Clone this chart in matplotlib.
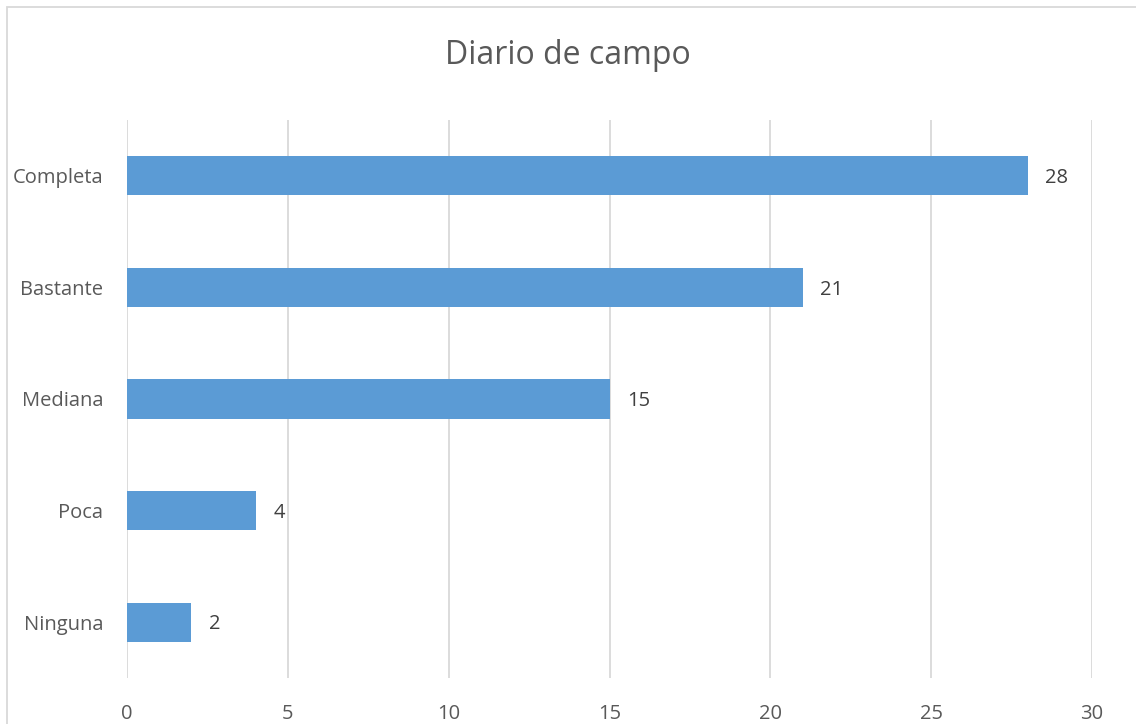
import matplotlib
matplotlib.use("Agg")
import matplotlib.pyplot as plt
from matplotlib.patches import Rectangle

categories = ["Completa", "Bastante", "Mediana", "Poca", "Ninguna"]
values = [28, 21, 15, 4, 2]
xticks = [0, 5, 10, 15, 20, 25, 30]
title = "Diario de campo"

plt.rcParams['font.family'] = ['Open Sans', 'DejaVu Sans']

W, H = 1136, 724
fig = plt.figure(figsize=(W / 100, H / 100), dpi=100)
fig.patch.set_facecolor("white")

# chart border (partially cut off, as in the reference)
fig.add_artist(Rectangle((7 / W, -0.1), 1.2, 1 - 7 / H + 0.1, transform=fig.transFigure,
                         fill=False, edgecolor="#D9D9D9", linewidth=1.3))

left, right = 127 / W, 1092 / W
bottom, top = 1 - 678 / H, 1 - 120 / H
ax = fig.add_axes([left, bottom, right - left, top - bottom])

ypos = list(range(len(categories)))[::-1]
ax.barh(ypos, values, height=0.35, color="#5B9BD5", zorder=3)
for y, v in zip(ypos, values):
    ax.text(v + 0.55, y - 0.02, str(v), va="center", ha="left", fontsize=14.5, color="#404040")

ax.set_xlim(0, 30)
ax.set_ylim(-0.5, len(categories) - 0.5)
ax.set_xticks(xticks)
ax.set_xticklabels([str(t) for t in xticks])
ax.set_yticks(ypos)
ax.set_yticklabels(categories)
ax.grid(axis="x", color="#D9D9D9", linewidth=1.3, zorder=0)
ax.tick_params(axis="both", length=0, labelsize=14.5, labelcolor="#595959")
ax.tick_params(axis="x", pad=19)
ax.tick_params(axis="y", pad=17)
for s in ax.spines.values():
    s.set_visible(False)

fig.text(0.5, 1 - 55 / H, title, ha="center", va="center", fontsize=23, color="#595959")

fig.savefig("out.png", dpi=100)
